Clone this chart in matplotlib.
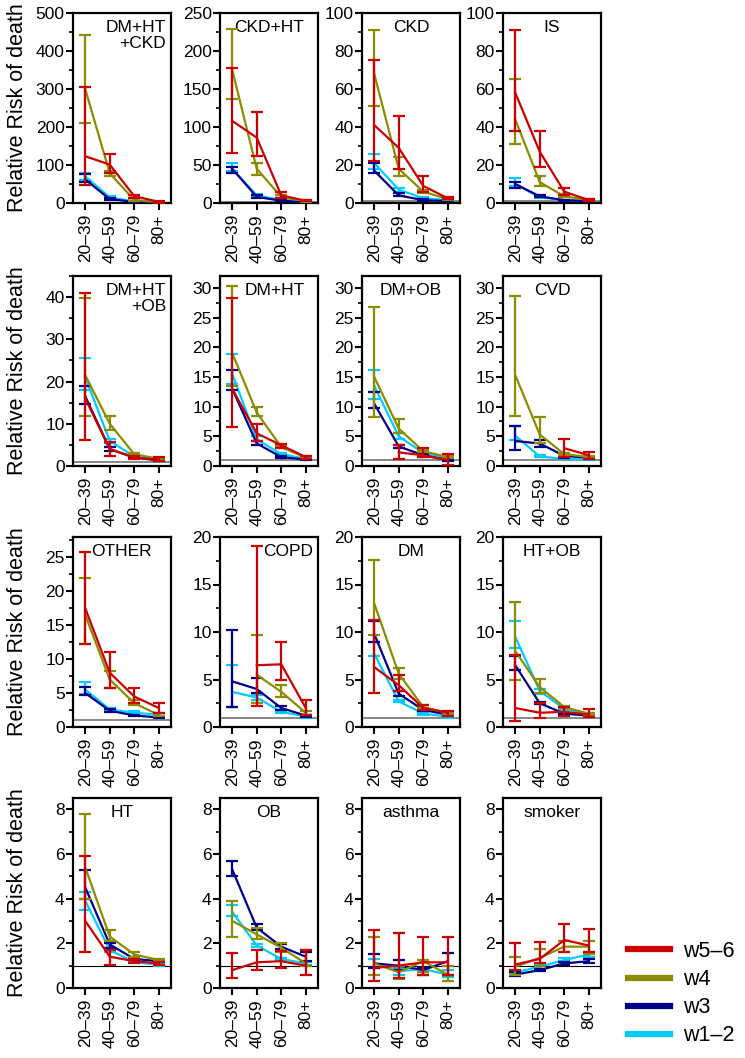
import numpy as np
import matplotlib.pyplot as plt
from matplotlib.lines import Line2D
from matplotlib.ticker import MultipleLocator

plt.rcParams['font.family'] = ['Liberation Sans', 'DejaVu Sans']

AGES = ['20–39', '40–59', '60–79', '80+']
WAVES = ['w5–6', 'w4', 'w3', 'w1–2']
COLORS = ['#CC0000', '#8C8C00', '#000088', '#00CCFF']
nan = np.nan

# each panel: rows = w5-6, w4, w3, w1-2 ; columns = age groups
DMHTCKD_MEAN = [[123, 101, 18, 3], [300, 78, 8, 2], [62, 10, 3, 1.5], [70, 15, 4, 1.5]]
DMHTCKD_LO = [[48, 78, 12, 1], [211, 70, 5, 1], [55, 8, 2, 1], [60, 12, 3, 1]]
DMHTCKD_HI = [[305, 128, 22, 5], [443, 85, 12, 3], [75, 12, 4, 2], [80, 18, 5, 2]]

CKDHT_MEAN = [[108, 86, 10, 3], [175, 45, 8, 2], [45, 8, 3, 1], [45, 10, 4, 2]]
CKDHT_LO = [[66, 62, 6, 2], [137, 37, 6, 1], [40, 7, 2, 1], [42, 8, 3, 1]]
CKDHT_HI = [[177, 120, 14, 4], [229, 53, 10, 3], [48, 10, 4, 2], [52, 12, 5, 3]]

CKD_MEAN = [[41, 29, 9, 2.5], [68, 18, 6, 2], [17, 4, 1.5, 1], [21, 7, 2.5, 1.5]]
CKD_LO = [[22, 18, 6, 2], [51, 14, 5, 1.5], [16, 3.5, 1, 0.8], [18, 6, 2, 1]]
CKD_HI = [[75, 46, 14, 3], [91, 24, 7, 2.5], [21, 5, 2, 1.3], [26, 8, 3, 2]]

IS_MEAN = [[58, 27, 6, 1.5], [44, 11, 3.5, 1.5], [10, 3.5, 1.5, 1], [10, 3, 1.5, 1]]
IS_LO = [[38, 19, 4, 1], [31, 9, 3, 1], [8, 3, 1.2, 0.8], [9, 2.5, 1.2, 0.8]]
IS_HI = [[91, 38, 8, 2], [65, 14, 4.5, 2], [11, 4, 1.8, 1.2], [13, 3.5, 1.8, 1.2]]

DMHTOB_MEAN = [[16, 4, 2, 1.5], [21.5, 10, 2.8, 1.7], [16.5, 4, 2, 1.3], [21, 6, 2.2, 1.5]]
DMHTOB_LO = [[6.2, 2.3, 1.7, 1.2], [11.8, 8.5, 2.5, 1.4], [14.8, 3.6, 1.8, 1.1], [18, 5.5, 2, 1.3]]
DMHTOB_HI = [[41, 5.8, 2.3, 2.2], [39.8, 11.8, 3.1, 2], [19, 4.5, 2.2, 1.5], [25.5, 6.5, 2.4, 1.7]]

DMHT_MEAN = [[13, 5.5, 3.5, 1.5], [19, 9, 3.2, 1.4], [13, 3.8, 1.5, 1.1], [15.5, 4.5, 2, 1.2]]
DMHT_LO = [[6.5, 4.2, 3, 1.2], [13.5, 8.5, 3, 1.2], [12.8, 3.6, 1.4, 1], [13.8, 4.2, 1.8, 1.1]]
DMHT_HI = [[28.3, 7, 3.7, 1.7], [30.3, 10, 3.4, 1.6], [16.2, 4.2, 1.7, 1.2], [18.9, 5, 2.2, 1.3]]

DMOB_MEAN = [[nan, 2.3, 1.8, 1], [15, 6.3, 2.5, 1.5], [10.5, 3.3, 1.8, 1], [13.5, 5, 2.2, 1.3]]
DMOB_LO = [[nan, 1.1, 1.5, 0.2], [8.2, 5.5, 2.3, 1.3], [9.7, 3, 1.6, 0.8], [11.3, 4.6, 2, 1.1]]
DMOB_HI = [[nan, 3.5, 3, 2], [26.8, 7.9, 2.7, 1.7], [12.4, 3.5, 2, 1.2], [16.2, 5.5, 2.4, 1.5]]

CVD_MEAN = [[nan, nan, 3, 1.8], [15.3, 5.3, 2, 1.5], [4.2, 3.8, 1.7, 1.4], [5.1, 1.6, 1.2, 1.1]]
CVD_LO = [[nan, nan, 1.5, 1.2], [8.4, 3.8, 1.8, 1.3], [2.7, 3.2, 1.4, 1.2], [4.3, 1.5, 1.1, 1]]
CVD_HI = [[nan, nan, 4.6, 2.4], [28.6, 8.2, 2.2, 1.7], [6.8, 4.3, 2, 1.6], [6.8, 1.8, 1.3, 1.2]]

OTHER_MEAN = [[17.5, 8, 4.5, 2.8], [16.5, 7, 3.5, 1.8], [5, 2.4, 1.7, 1.4], [5.5, 2.6, 2.1, 1.8]]
OTHER_LO = [[12.3, 5.7, 3.5, 2], [12.3, 5.8, 3.2, 1.6], [4.7, 2.2, 1.6, 1.3], [4.8, 2.4, 2, 1.6]]
OTHER_HI = [[25.8, 11, 5.8, 3.5], [22, 8.2, 4, 2], [5.9, 2.7, 1.8, 1.5], [6.7, 2.8, 2.3, 2]]

COPD_MEAN = [[nan, 6.5, 6.6, 2], [nan, 5.5, 3.7, 1.5], [4.8, 4, 2, 1.2], [3.7, 3.1, 1.6, 1.1]]
COPD_LO = [[nan, 2.2, 4.9, 1.3], [nan, 2.5, 3.2, 1.3], [2.1, 3.6, 1.8, 1.1], [2.1, 2.8, 1.5, 1]]
COPD_HI = [[nan, 19.1, 9, 2.8], [nan, 9.7, 4.4, 1.7], [10.2, 5.2, 2.2, 1.3], [6.5, 3.4, 1.7, 1.2]]

DM_MEAN = [[6.3, 4.4, 2, 1.5], [13, 5.6, 2.1, 1.5], [9.8, 3.5, 1.8, 1.3], [7.7, 2.7, 1.4, 1.1]]
DM_LO = [[3.6, 3.8, 1.8, 1.2], [9.7, 5.1, 2, 1.4], [9, 3.3, 1.7, 1.2], [7.5, 2.6, 1.3, 1]]
DM_HI = [[11.3, 5.5, 2.3, 1.7], [17.6, 6.2, 2.3, 1.6], [11.2, 3.8, 1.9, 1.4], [8.9, 2.8, 1.5, 1.2]]

HTOB_MEAN = [[2, 1.5, 1.6, 1.3], [8, 4.2, 2.1, 1.4], [6.5, 2.5, 1.4, 1.2], [9.5, 3.8, 1.9, 1.4]]
HTOB_LO = [[0.6, 0.9, 1.2, 1.1], [5, 3.6, 2, 1.3], [6, 2.4, 1.3, 1.1], [8.3, 3.5, 1.8, 1.3]]
HTOB_HI = [[7.6, 2.5, 2.1, 1.9], [13.2, 5.1, 2.2, 1.5], [7.5, 2.6, 1.5, 1.3], [11.2, 4, 2, 1.5]]

HT_MEAN = [[3, 1.4, 1.2, 1.1], [5.4, 2.3, 1.5, 1.25], [4.5, 1.95, 1.3, 1.2], [3.9, 1.7, 1.15, 1.05]]
HT_LO = [[1.6, 1.05, 1.1, 1.05], [4, 2.1, 1.4, 1.2], [4, 1.8, 1.25, 1.15], [3.5, 1.6, 1.1, 1]]
HT_HI = [[5.9, 1.7, 1.3, 1.15], [7.8, 2.6, 1.6, 1.3], [5.3, 2, 1.35, 1.25], [4.3, 1.8, 1.2, 1.1]]

OB_MEAN = [[0.8, 1.15, 1.2, 1], [3, 2.4, 1.8, 1.1], [5.3, 2.7, 1.85, 1.4], [3.4, 1.9, 1.3, 1.1]]
OB_LO = [[0.45, 0.8, 0.9, 0.6], [2.3, 2.2, 1.6, 1], [5, 2.6, 1.75, 1.2], [3.2, 1.85, 1.25, 1.05]]
OB_HI = [[1.55, 1.7, 1.65, 1.7], [3.9, 2.7, 2, 1.7], [5.7, 2.85, 1.95, 1.6], [3.7, 1.95, 1.35, 1.15]]

ASTHMA_MEAN = [[0.9, 1.0, 1.15, 1.15], [1.1, 0.7, 1.2, 0.6], [1.1, 1.0, 0.8, 1.2], [1.1, 0.75, 0.85, 0.6]]
ASTHMA_LO = [[0.3, 0.45, 0.6, 0.6], [0.6, 0.4, 0.7, 0.3], [0.9, 0.8, 0.6, 0.6], [0.9, 0.6, 0.7, 0.5]]
ASTHMA_HI = [[2.6, 2.45, 2.3, 2.3], [2.3, 1.0, 1.25, 1.0], [1.5, 1.25, 0.9, 1.55], [1.3, 0.9, 0.9, 0.8]]

SMOKER_MEAN = [[1.05, 1.3, 2.15, 1.9], [0.95, 1.35, 1.85, 1.85], [0.6, 0.8, 1.1, 1.2], [0.7, 0.95, 1.25, 1.5]]
SMOKER_LO = [[0.8, 1.1, 1.6, 1.6], [0.6, 1.0, 1.6, 1.5], [0.55, 0.75, 1.05, 1.1], [0.65, 0.85, 1.2, 1.4]]
SMOKER_HI = [[2.0, 2.05, 2.85, 2.65], [1.4, 1.75, 2.1, 2.1], [0.7, 0.85, 1.15, 1.3], [0.8, 1.05, 1.35, 1.6]]

# title, mean, lo, hi, ymax, major, minor, title x, ha
panels = [
    ('DM+HT\n+CKD', DMHTCKD_MEAN, DMHTCKD_LO, DMHTCKD_HI, 500, 100, 50, 0.95, 'right'),
    ('CKD+HT', CKDHT_MEAN, CKDHT_LO, CKDHT_HI, 250, 50, 25, 0.5, 'center'),
    ('CKD', CKD_MEAN, CKD_LO, CKD_HI, 100, 20, 10, 0.5, 'center'),
    ('IS', IS_MEAN, IS_LO, IS_HI, 100, 20, 10, 0.5, 'center'),
    ('DM+HT\n+OB', DMHTOB_MEAN, DMHTOB_LO, DMHTOB_HI, 45, 10, 5, 0.95, 'right'),
    ('DM+HT', DMHT_MEAN, DMHT_LO, DMHT_HI, 32, 5, 2.5, 0.56, 'center'),
    ('DM+OB', DMOB_MEAN, DMOB_LO, DMOB_HI, 32, 5, 2.5, 0.5, 'center'),
    ('CVD', CVD_MEAN, CVD_LO, CVD_HI, 32, 5, 2.5, 0.5, 'center'),
    ('OTHER', OTHER_MEAN, OTHER_LO, OTHER_HI, 28, 5, 2.5, 0.19, 'left'),
    ('COPD', COPD_MEAN, COPD_LO, COPD_HI, 20, 5, 2.5, 0.95, 'right'),
    ('DM', DM_MEAN, DM_LO, DM_HI, 20, 5, 2.5, 0.5, 'center'),
    ('HT+OB', HTOB_MEAN, HTOB_LO, HTOB_HI, 20, 5, 2.5, 0.5, 'center'),
    ('HT', HT_MEAN, HT_LO, HT_HI, 8.5, 2, 1, 0.5, 'center'),
    ('OB', OB_MEAN, OB_LO, OB_HI, 8.5, 2, 1, 0.5, 'center'),
    ('asthma', ASTHMA_MEAN, ASTHMA_LO, ASTHMA_HI, 8.5, 2, 1, 0.5, 'center'),
    ('smoker', SMOKER_MEAN, SMOKER_LO, SMOKER_HI, 8.5, 2, 1, 0.5, 'center'),
]

W, H = 745, 1058
fig = plt.figure(figsize=(W / 100, H / 100), dpi=100)

lefts = [73, 220, 362, 503]
tops = [13, 276, 537, 798]
aw, ah = 98, 190

x = np.arange(len(AGES))
for i, (title, mean, lo, hi, ymax, major, minor, tx, ha) in enumerate(panels):
    r, c = divmod(i, 4)
    ax = fig.add_axes([lefts[c] / W, 1 - (tops[r] + ah) / H, aw / W, ah / H])
    ref_col = '#000000' if r == 3 else '#888888'
    ref_lw = 0.8 if r == 3 else 1.4
    ax.axhline(1, color=ref_col, lw=ref_lw, zorder=1)
    for k in [3, 2, 1, 0]:
        m = np.array(mean[k], dtype=float)
        yerr = [m - np.array(lo[k]), np.array(hi[k]) - m]
        ax.errorbar(x, m, yerr=yerr, color=COLORS[k], lw=1.6, elinewidth=1.6,
                    capsize=4, capthick=1.6, zorder=2 + (3 - k))
    ax.set_xlim(-0.5, 3.5)
    ax.set_ylim(0, ymax)
    ax.yaxis.set_major_locator(MultipleLocator(major))
    ax.yaxis.set_minor_locator(MultipleLocator(minor))
    ax.set_xticks(x)
    ax.set_xticklabels(AGES, rotation=90, fontsize=12.5)
    ax.tick_params(axis='y', labelsize=12.5, width=1.5, length=5, pad=1)
    ax.tick_params(axis='y', which='minor', width=1.2, length=3)
    ax.tick_params(axis='x', width=1.5, length=5, pad=3)
    for s in ax.spines.values():
        s.set_linewidth(1.6)
    ax.text(tx, 0.965, title, transform=ax.transAxes, ha=ha, va='top',
            fontsize=12.5, linespacing=1.1, multialignment='right')
    if c == 0:
        ax.set_ylabel('Relative Risk of death', fontsize=15.5)
        ax.yaxis.set_label_coords(-0.46, 0.5)

handles = [Line2D([], [], color=col, lw=4.5) for col in COLORS]
fig.legend(handles, WAVES, loc='upper left', bbox_to_anchor=(628 / W, 1 - 941 / H),
           frameon=False, fontsize=15.5, handlelength=1.95, handletextpad=0.6,
           labelspacing=0.33, borderaxespad=0, borderpad=0)

fig.savefig('out.png', dpi=100)
